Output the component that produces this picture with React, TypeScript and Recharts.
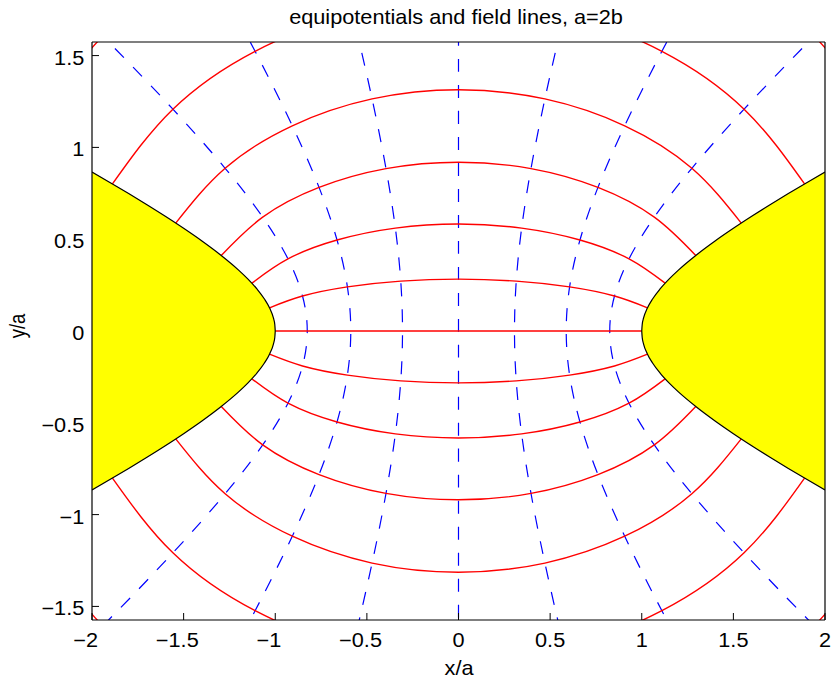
import { Area, ComposedChart, Line, XAxis, YAxis } from 'recharts'

// crossings of the red field lines with the blue equipotentials, first quadrant (x/a, y/a)
// rows: field lines from the axis outwards (last row only carries the dashed lines past the frame)
// columns: from the electrode edge in to the y axis
const crossX = [
  [1.0, 0.8253, 0.5878, 0.3055, 0],
  [1.0314, 0.8512, 0.6063, 0.3151, 0],
  [1.1276, 0.9306, 0.6628, 0.3445, 0],
  [1.2947, 1.0685, 0.761, 0.3956, 0],
  [1.5431, 1.2735, 0.907, 0.4715, 0],
  [1.8884, 1.5585, 1.11, 0.577, 0],
  [2.3524, 1.9415, 1.3827, 0.7188, 0],
  [2.9642, 2.4464, 1.7423, 0.9057, 0],
]
const crossY = [
  [0, 0, 0, 0, 0],
  [0.1263, 0.1905, 0.2403, 0.2717, 0.2824],
  [0.2606, 0.393, 0.4956, 0.5604, 0.5826],
  [0.4112, 0.6202, 0.7821, 0.8844, 0.9194],
  [0.5876, 0.8863, 1.1177, 1.2639, 1.3139],
  [0.801, 1.2082, 1.5235, 1.7228, 1.791],
  [1.0646, 1.6059, 2.0251, 2.29, 2.3806],
  [1.3952, 2.1045, 2.6538, 3.0011, 3.1198],
]
const fieldRows = [1, 2, 3, 4, 5, 6]
const potentialCols = [1, 2, 3]

// yellow electrode edge: distance from the centre and half height
const electrodeX = [1, 1.0025, 1.01, 1.03, 1.06, 1.1, 1.15, 1.2, 1.3, 1.4, 1.5, 1.6, 1.7, 1.8, 1.9, 2]
const electrodeH = [0, 0.0354, 0.0709, 0.1234, 0.1758, 0.2291, 0.2839, 0.3317, 0.4153, 0.4899, 0.559, 0.6245, 0.6874, 0.7483, 0.8078, 0.866]

const xTicks = [-2, -1.5, -1, -0.5, 0, 0.5, 1, 1.5, 2]
const yTicks = [-1.5, -1, -0.5, 0, 0.5, 1, 1.5]
const xDomain = [-2, 2]
const yDomain = [-1.574, 1.574]

const FONT = "'Liberation Sans', Arial, Helvetica, sans-serif"
const FS = 19.4
const SX = 1.12

const fieldLine = (i: number, sy: number) =>
  [0, 1, 2, 3, 4, 3, 2, 1, 0].map((k, j) => ({ x: (j < 4 ? -1 : 1) * crossX[i][k], y: sy * crossY[i][k] }))

const potentialLine = (k: number, sx: number) => {
  const rows = crossX.map((_, i) => i)
  const down = rows.slice(1).reverse().map((i) => ({ x: sx * crossX[i][k], y: -crossY[i][k] }))
  const up = rows.map((i) => ({ x: sx * crossX[i][k], y: crossY[i][k] }))
  return [...down, ...up]
}

const electrode = (side: number) => {
  const pts = electrodeX.map((x, i) => ({ x: side * x, band: [-electrodeH[i], electrodeH[i]] }))
  return side < 0 ? pts.reverse() : pts
}

const numW = (s: string) => [...s].reduce((w, ch) => w + (ch === '.' ? 0.278 : 0.556), 0) * FS

function XTick({ x, y, payload }: any) {
  const v = payload.value as number
  const s = String(Math.abs(v))
  return (
    <g transform={`translate(${x},${y}) scale(${SX},1)`} fontFamily={FONT} fontSize={FS} fill="#000">
      <text textAnchor="middle">{s}</text>
      {v < 0 && <text x={-numW(s) / 2} textAnchor="end">−</text>}
    </g>
  )
}

function YTick({ x, y, payload }: any) {
  const v = payload.value as number
  return (
    <g>
      {Math.abs(v) >= 1 && <line x1={x + 7.7} x2={x + 14.7} y1={y} y2={y} stroke="#000" />}
      <g transform={`translate(${x},${y + 9}) scale(${SX},1)`}>
        <text textAnchor="end" fontFamily={FONT} fontSize={FS} fill="#000">
          {(v < 0 ? '−' : '') + Math.abs(v)}
        </text>
      </g>
    </g>
  )
}

export default function App() {
  const blue = [
    ...potentialCols.flatMap((k) => [potentialLine(k, -1), potentialLine(k, 1)]),
    potentialLine(4, 1),
  ]
  const red = [fieldLine(0, 1), ...fieldRows.flatMap((i) => [fieldLine(i, 1), fieldLine(i, -1)])]
  return (
    <div style={{ position: 'absolute', left: 0, top: 0, width: 831, height: 679, background: '#fff' }}>
      <ComposedChart width={831} height={679} margin={{ top: 0, right: 0, bottom: 0, left: 0 }}>
        {blue.map((d, i) => (
          <Line key={`b${i}`} data={d} dataKey="y" type="natural" stroke="#0000ff" strokeWidth={1.2}
            strokeDasharray="13 13" dot={false} activeDot={false} isAnimationActive={false} />
        ))}
        {red.map((d, i) => (
          <Line key={`r${i}`} data={d} dataKey="y" type="natural" stroke="#ff0000" strokeWidth={1.4}
            dot={false} activeDot={false} isAnimationActive={false} />
        ))}
        {[-1, 1].map((s) => (
          <Area key={`e${s}`} data={electrode(s)} dataKey="band" type="monotone" fill="#ffff00" fillOpacity={1}
            stroke="#000" strokeWidth={1.2} isAnimationActive={false} zIndex={450} />
        ))}
        <XAxis dataKey="x" type="number" domain={xDomain} ticks={xTicks} interval={0} allowDataOverflow
          height={59} tickSize={-7} tickMargin={34} tick={XTick}
          axisLine={{ stroke: '#000', strokeWidth: 1.2 }} tickLine={{ stroke: '#000' }} />
        <XAxis xAxisId="top" orientation="top" dataKey="x" type="number" domain={xDomain} ticks={xTicks} interval={0}
          allowDataOverflow height={42} tickSize={-7} tick={false}
          axisLine={{ stroke: '#000', strokeWidth: 1.2 }} tickLine={{ stroke: '#000' }} />
        <YAxis type="number" domain={yDomain} ticks={yTicks} interval={0} allowDataOverflow
          width={92} tickSize={-7} tickMargin={14.7} tick={YTick} tickLine={false}
          axisLine={{ stroke: '#000', strokeWidth: 1.2 }} />
        <YAxis yAxisId="right" orientation="right" type="number" domain={yDomain} ticks={[-1.5, -1, 1, 1.5]}
          interval={0} allowDataOverflow width={6} tickSize={-7} tick={false}
          axisLine={{ stroke: '#000', strokeWidth: 1.2 }} tickLine={{ stroke: '#000' }} />
      </ComposedChart>
      <svg width={831} height={679} style={{ position: 'absolute', left: 0, top: 0, pointerEvents: 'none' }}
        fontFamily={FONT} fontSize={FS} fill="#000">
        <g transform={`translate(456,24) scale(${SX},1)`}>
          <text textAnchor="middle">equipotentials and field lines, a=2b</text>
        </g>
        <g transform={`translate(459,675) scale(${SX},1)`}>
          <text textAnchor="middle">x/a</text>
        </g>
        <g transform="translate(25,326) rotate(-90) scale(0.95,1.12)">
          <text textAnchor="middle">y/a</text>
        </g>
      </svg>
    </div>
  )
}
